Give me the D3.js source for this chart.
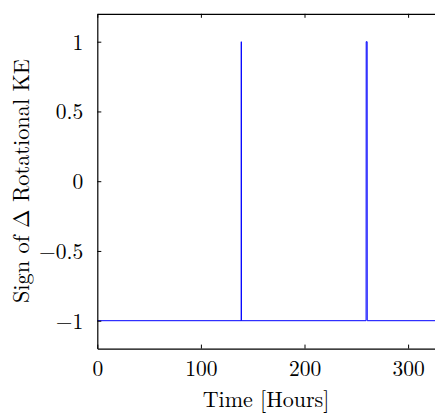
<!DOCTYPE html>
<html>
<head>
<meta charset="utf-8">
<script src="https://cdn.jsdelivr.net/npm/d3@7"></script>
<style>
  html, body { margin: 0; padding: 0; background: #fff; }
  svg { display: block; }
  text { font-family: "Latin Modern Roman", "Liberation Serif", serif; fill: #000; }
</style>
</head>
<body>
<svg id="chart" width="435" height="415"></svg>
<script>
// Data
const timeHours = [0, 138.95, 139.0, 139.05, 259.45, 259.55, 260.45, 260.55, 330];
const signValues = [-1, -1, 1, -1, -1, 1, 1, -1, -1];
const xTicks = [0, 100, 200, 300];
const yTicks = [-1, -0.5, 0, 0.5, 1];
const yTickLabels = ["\u22121", "\u22120.5", "0", "0.5", "1"];
const xLabel = "Time [Hours]";
const yLabel = "Sign of \u0394 Rotational KE";

const FONT = "'Latin Modern Roman', 'Liberation Serif', serif";
const svg = d3.select("#chart");
const plotLeft = 97.3, plotTop = 13.8, plotBottom = 348.6;
const pxPerHour = 1.036;
const xMax = 330;
const x = d3.scaleLinear().domain([0, xMax]).range([plotLeft, plotLeft + xMax * pxPerHour]);
const y = d3.scaleLinear().domain([-1.2, 1.2]).range([plotBottom, plotTop]);

// data line
const line = d3.line().x((d, i) => x(timeHours[i])).y((d, i) => y(signValues[i]));
svg.append("path")
  .datum(signValues)
  .attr("d", line)
  .attr("fill", "none")
  .attr("stroke", "#0000ff")
  .attr("stroke-width", 1);

const tickLen = 4;
// bottom axis
const xAxisB = d3.axisBottom(x).tickValues(xTicks).tickSizeInner(-tickLen).tickSizeOuter(0).tickPadding(12)
  .tickFormat(d3.format("d"));
const gB = svg.append("g").attr("transform", `translate(0,${plotBottom})`).call(xAxisB);
// top axis
const xAxisT = d3.axisTop(x).tickValues(xTicks).tickSizeInner(-tickLen).tickSizeOuter(0).tickFormat("");
const gT = svg.append("g").attr("transform", `translate(0,${plotTop})`).call(xAxisT);
// left axis
const yAxisL = d3.axisLeft(y).tickValues(yTicks).tickSizeInner(-tickLen).tickSizeOuter(0).tickPadding(14)
  .tickFormat(d => yTickLabels[yTicks.indexOf(d)]);
const gL = svg.append("g").attr("transform", `translate(${plotLeft},0)`).call(yAxisL);

[gB, gT, gL].forEach(g => {
  g.attr("font-family", null).attr("font-size", null);
  g.select(".domain").attr("stroke", "#000").attr("stroke-width", 1.2);
  g.selectAll(".tick line").attr("stroke", "#000").attr("stroke-width", 1);
  g.selectAll("text").style("font-family", FONT).style("font-size", "21.5px").attr("fill", "#000");
});
gB.selectAll(".tick text").attr("dy", "0.71em");
gL.selectAll(".tick text").attr("dy", "0.35em");

// axis labels
svg.append("text")
  .attr("x", 266)
  .attr("y", 407)
  .attr("text-anchor", "middle")
  .style("font-family", FONT)
  .style("font-size", "22px")
  .text(xLabel);

svg.append("text")
  .attr("transform", `translate(28.5,181) rotate(-90)`)
  .attr("text-anchor", "middle")
  .style("font-family", FONT)
  .style("font-size", "22.3px")
  .text(yLabel);
</script>
</body>
</html>
